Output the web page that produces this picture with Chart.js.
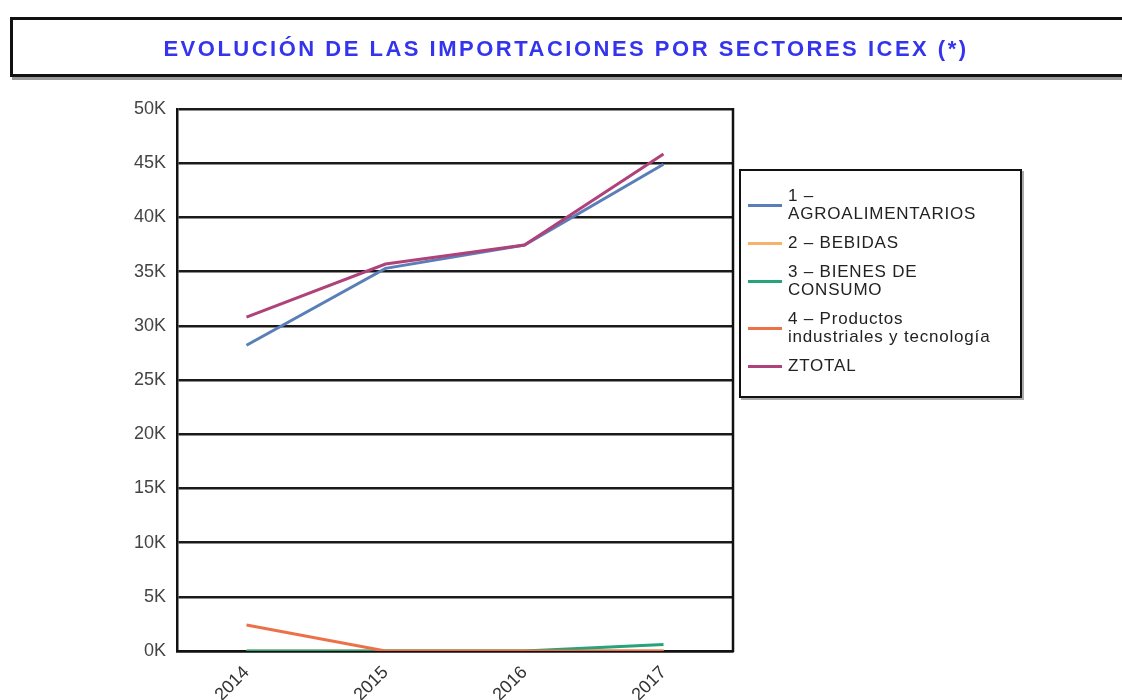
<!DOCTYPE html>
<html>
<head>
<meta charset="utf-8">
<script src="https://cdn.jsdelivr.net/npm/chart.js@4.4.1/dist/chart.umd.min.js"></script>
<style>
  body { margin: 0; background: #fff; font-family: "Liberation Sans", Arial, sans-serif; }
  #wrap { position: relative; width: 1122px; height: 700px; overflow: hidden; }
  #titleBox {
    position: absolute; left: 10px; top: 17px; width: 1130px; height: 60px;
    border: 3px solid #111; box-shadow: 2px 3px 0 #9a9a9a;
    box-sizing: border-box; background: #fff;
  }
  #titleText {
    position: absolute; left: 0; width: 1132px; top: 36px; text-align: center;
    font: bold 22px "Liberation Sans", Arial, sans-serif; color: #3434ee;
    letter-spacing: 2.5px; line-height: 26px;
  }
  #legend {
    position: absolute; left: 739px; top: 169px; width: 283px; height: 229px;
    border: 2px solid #111; box-shadow: 2px 2px 0 #aaa; box-sizing: border-box;
    padding-top: 16px; background: #fff;
  }
  .item { display: flex; align-items: center; margin-bottom: 11px; }
  .swatch { width: 34px; height: 3px; margin-left: 7px; margin-right: 6px; flex: none; }
  .lbl { font-size: 17px; line-height: 18px; color: #222; letter-spacing: 0.8px; white-space: pre-line; }
  canvas { position: absolute; left: 0; top: 0; }
</style>
</head>
<body>
<div id="wrap">
  <canvas id="lineChart" width="1122" height="700"></canvas>
  <div id="titleBox"></div>
  <div id="titleText">EVOLUCIÓN DE LAS IMPORTACIONES POR SECTORES ICEX (*)</div>
  <div id="legend"></div>
</div>
<script>
// data
var years = ['2014', '2015', '2016', '2017'];
var agro = [28200, 35300, 37450, 44900];
var bebidas = [0, 0, 0, 0];
var bienes = [0, 0, 0, 600];
var productos = [2400, 0, 0, 0];
var ztotal = [30800, 35700, 37450, 45850];

var seriesNames = ['1 –\nAGROALIMENTARIOS', '2 – BEBIDAS', '3 – BIENES DE\nCONSUMO', '4 – Productos\nindustriales y tecnología', 'ZTOTAL'];
var seriesColors = ['#5a7fb8', '#f6b26b', '#27a37a', '#ec7048', '#b0427a'];
var seriesData = [agro, bebidas, bienes, productos, ztotal];
var drawOrder = [4, 3, 2, 1, 0];

var datasets = seriesData.map((vals, i) => {
  return {
    label: seriesNames[i],
    data: vals,
    borderColor: seriesColors[i],
    backgroundColor: seriesColors[i],
    borderWidth: 3,
    pointRadius: 0,
    tension: 0,
    fill: false,
    order: drawOrder[i],
  }
});

// right edge of the plot box
const rightBorder = {
  id: 'rightBorder',
  afterDraw: (chart) => {
    const a = chart.chartArea;
    const ctx = chart.ctx;
    ctx.save();
    ctx.strokeStyle = '#111';
    ctx.lineWidth = 2.5;
    ctx.beginPath();
    ctx.moveTo(a.right, a.top - 1);
    ctx.lineTo(a.right, a.bottom + 1);
    ctx.stroke();
    ctx.restore();
  }
};

var ctx = document.getElementById('lineChart').getContext('2d');
var chart = new Chart(ctx, {
  type: 'line',
  data: { labels: years, datasets: datasets },
  options: {
    responsive: false,
    animation: false,
    layout: { padding: { left: 0, top: 109, right: 389, bottom: 0 } },
    plugins: { legend: { display: false }, tooltip: { enabled: false } },
    scales: {
      x: {
        offset: true,
        grid: { display: false },
        border: { display: true, color: '#111', width: 2.5 },
        ticks: {
          color: '#333', font: { family: 'Liberation Sans', size: 18 },
          maxRotation: 45, minRotation: 45, padding: 3,
        },
        afterFit: (s) => { s.height = 49; },
      },
      y: {
        min: 0, max: 50000,
        grid: { color: '#1a1a1a', lineWidth: 2.5, drawTicks: false },
        border: { display: true, color: '#111', width: 2.5 },
        ticks: {
          stepSize: 5000, color: '#444', padding: 11,
          font: { family: 'Liberation Sans', size: 18 },
          callback: (v) => (v / 1000) + 'K',
        },
        afterFit: (s) => { s.width = 177; },
      }
    }
  },
  plugins: [rightBorder]
});

// html legend, multi-line labels
var legendBox = document.getElementById('legend');
chart.data.datasets.forEach((ds) => {
  var item = document.createElement('div');
  item.className = 'item';
  item.innerHTML = '<span class="swatch" style="background:' + ds.borderColor + '"></span>' +
    '<span class="lbl"></span>';
  item.querySelector('.lbl').textContent = ds.label;
  legendBox.appendChild(item);
});
</script>
</body>
</html>
